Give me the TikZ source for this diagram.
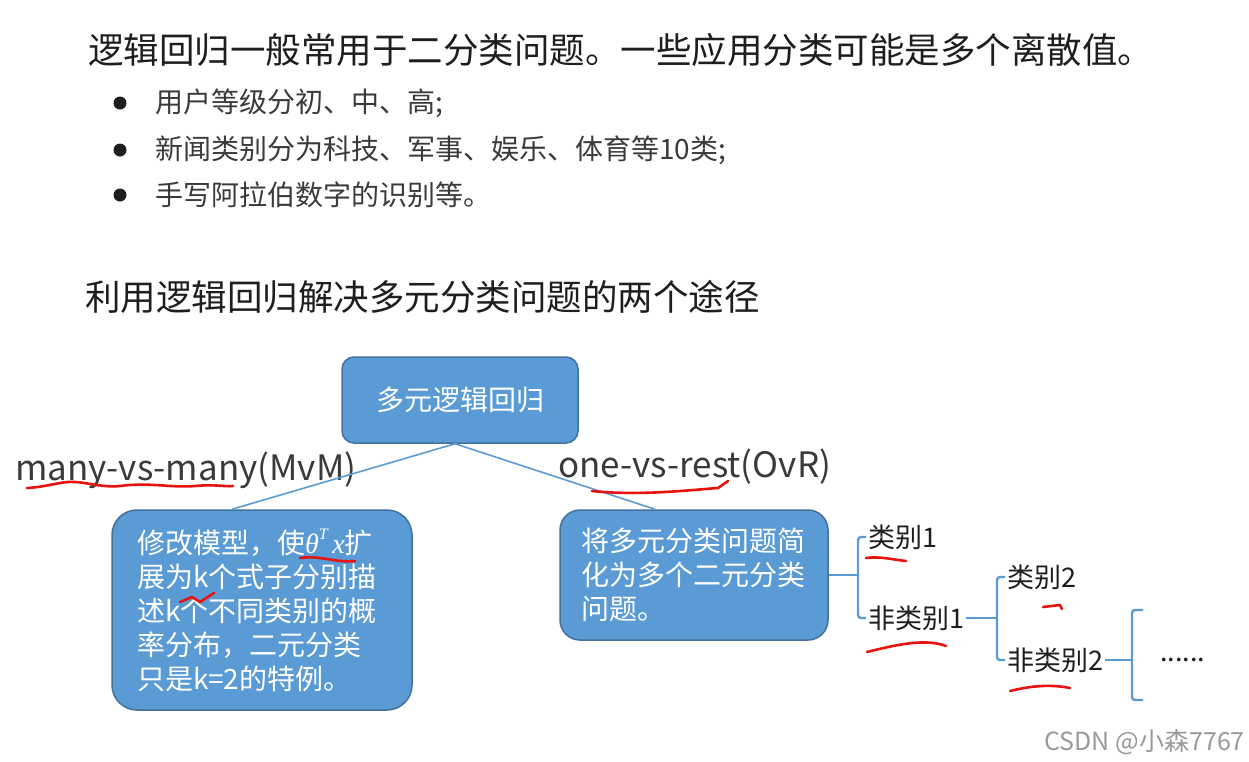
\documentclass[tikz,border=0pt]{standalone}
\usepackage{fontspec}
\setmainfont{Noto Sans CJK SC}
\newfontfamily\formfont{Liberation Serif}
\usetikzlibrary{positioning,calc}
\definecolor{ink}{HTML}{1E1E1E}
\definecolor{itemink}{HTML}{3A3A3A}
\definecolor{boxfill}{HTML}{5B9BD5}
\definecolor{boxline}{HTML}{41719C}
\definecolor{link}{HTML}{5B9BD5}
\definecolor{pen}{HTML}{E8130F}

\begin{document}
\begin{tikzpicture}[x=1pt,y=-1pt,
  head/.style={anchor=west,inner sep=0pt,text=ink,font=\fontsize{35.5}{40}\selectfont},
  item/.style={anchor=west,inner sep=0pt,text=itemink,font=\fontsize{28}{32}\selectfont},
  bluebox/.style={draw=boxline,line width=1.5pt,fill=boxfill,text=white,font=\fontsize{28}{34}\selectfont},
  tag/.style={anchor=west,inner sep=0pt,text=itemink,font=\fontsize{35}{40}\selectfont},
  cls/.style={anchor=west,inner sep=2pt,text=ink,font=\fontsize{27}{32}\selectfont},
  link/.style={draw=link,line width=1.6pt},
  brace/.style={draw=link,line width=2.4pt,rounded corners=3pt},
  scribble/.style={draw=pen,line width=2.6pt,line cap=round,line join=round},
]
  \useasboundingbox (0,0) rectangle (1249,761);

  % heading and list
  \node[head] (title) at (88,50) {逻辑回归一般常用于二分类问题。一些应用分类可能是多个离散值。};
  \foreach \y/\t [count=\i] in {103/{用户等级分初、中、高;},150/{新闻类别分为科技、军事、娱乐、体育等10类;},195/{手写阿拉伯数字的识别等。}}{
    \fill[ink] (120,\y) circle (6.5);
    \node[item] (item\i) at (155,\y) {\t};
  }
  \node[head] (ways) at (85,297) {利用逻辑回归解决多元分类问题的两个途径};

  % tree
  \node[bluebox,minimum width=236,minimum height=86,rounded corners=12] (root) at (460,400) {多元逻辑回归};
  \node[bluebox,minimum width=300,minimum height=200,rounded corners=25,text width=250,align=left] (mvm) at (262,610)
    {修改模型，使{\formfont\itshape θ\raisebox{0.5em}{\fontsize{16}{16}\selectfont T}\,x}扩\\展为k个式子分别描\\述k个不同类别的概\\率分布，二元分类\\只是k=2的特例。};
  \node[bluebox,minimum width=268,minimum height=130,rounded corners=20,text width=226,align=left] (ovr) at (694,575)
    {将多元分类问题简\\化为多个二元分类\\问题。};
  \node[tag] (mvmtag) at (15,470) {many-vs-many(MvM)};
  \node[tag] (ovrtag) at (558,467) {one-vs-rest(OvR)};
  \draw[link] ([xshift=-5]root.south) -- ([xshift=-30]mvm.north);
  \draw[link] ([xshift=-5]root.south) -- ([xshift=-39]ovr.north);

  % one-vs-rest splits
  \node[cls] (c1) at (866,537) {类别1};
  \node[cls] (nc1) at (866,618) {非类别1};
  \node[cls] (c2) at (1005,577) {类别2};
  \node[cls] (nc2) at (1005,660) {非类别2};
  \node[cls] (more) at (1158,660) {......};
  \coordinate (s1) at (858,575);
  \coordinate (s2) at (997,618);
  \coordinate (s3) at (1132,655);
  \coordinate (t3) at (1143,610);
  \coordinate (b3) at (1143,700);
  \draw[link,line width=2.4pt] (ovr.east) -- (ovr.east -| s1);
  \draw[brace] (c1.west) -| (s1) |- (nc1.west);
  \draw[link,line width=2.4pt] (nc1.east) -- (s2);
  \draw[brace] (c2.west) -| (s2) |- (nc2.west);
  \draw[link,line width=2.4pt] (nc2.east) -- (nc2.east -| s3);
  \draw[brace] (t3) -| (s3) |- (b3);

  % pen marks
  \draw[scribble] (27,488) .. controls (45,487) and (55,483) .. (68,482) .. controls (85,481) and (100,488) .. (120,486) .. controls (150,482) and (170,488) .. (195,486) .. controls (215,484) and (225,487) .. (233,486);
  \draw[scribble] (300,558) .. controls (320,555) and (335,563) .. (355,561);
  \draw[scribble] (180,602) -- (192,597) -- (200,602) -- (214,593);
  \draw[scribble] (592,491) .. controls (640,496) and (690,490) .. (718,488) -- (728,481);
  \draw[scribble] (866,558) .. controls (880,556) and (895,560) .. (906,561);
  \draw[scribble] (1043,607) -- (1060,605) -- (1062,609);
  \draw[scribble] (867,652) .. controls (895,645) and (925,638) .. (946,646);
  \draw[scribble] (1010,691) .. controls (1030,686) and (1050,684) .. (1070,688);

  \node[anchor=east,inner sep=0pt,text=gray!80,font=\fontsize{25}{28}\selectfont] (mark) at (1245,742) {CSDN @小森7767};
\end{tikzpicture}
\end{document}
